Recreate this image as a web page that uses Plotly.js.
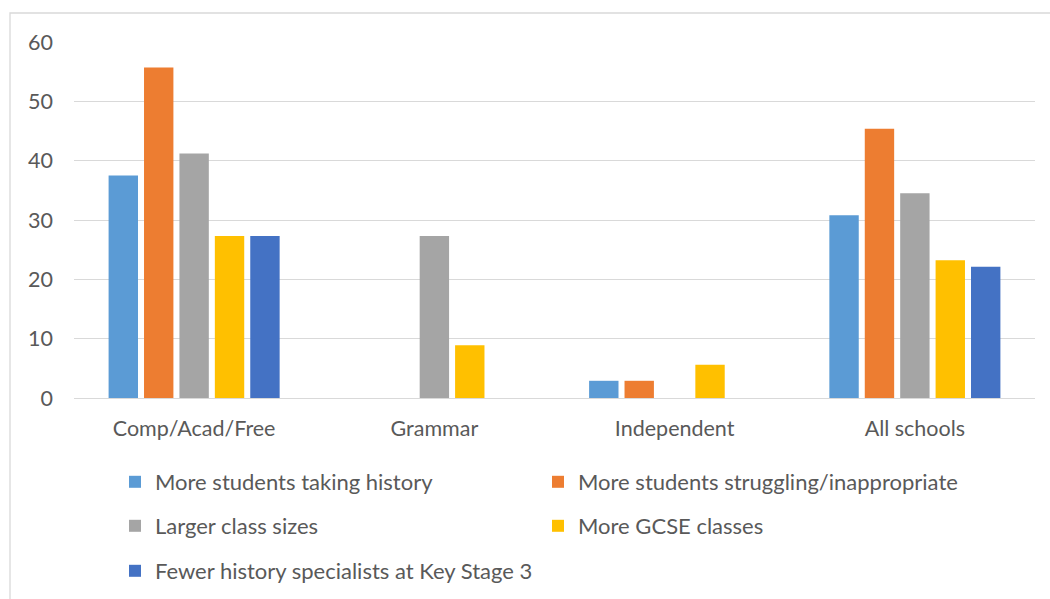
<!DOCTYPE html>
<html>
<head>
<meta charset="utf-8">
<script src="https://cdn.plot.ly/plotly-3.0.1.min.js"></script>
<style>
  html, body { margin: 0; padding: 0; background: #ffffff; }
  #chart { width: 1050px; height: 599px; }
</style>
</head>
<body>
<div id="chart"></div>
<script>
const categories = ["Comp/Acad/Free", "Grammar", "Independent", "All schools"];

const seriesNames = [
  "More students taking history",
  "More students struggling/inappropriate",
  "Larger class sizes",
  "More GCSE classes",
  "Fewer history specialists at Key Stage 3"
];

const moreStudentsTaking = [37.5, null, 2.9, 30.8];
const moreStudentsStruggling = [55.7, null, 2.9, 45.4];
const largerClassSizes = [41.2, 27.3, null, 34.5];
const moreGcseClasses = [27.3, 8.9, 5.6, 23.2];
const fewerSpecialists = [27.3, null, null, 22.1];

const seriesValues = [moreStudentsTaking, moreStudentsStruggling, largerClassSizes, moreGcseClasses, fewerSpecialists];
const seriesColors = ["#5B9BD5", "#ED7D31", "#A5A5A5", "#FFC000", "#4472C4"];
const seriesLegends = ["legend", "legend", "legend2", "legend2", "legend3"];

const yTicks = [0, 10, 20, 30, 40, 50, 60];

const FONT = "Lato, 'Open Sans', sans-serif";
const TXT = "#595959";

const traces = seriesNames.map((name, i) => ({
  type: "bar",
  name: name,
  x: categories,
  y: seriesValues[i],
  marker: { color: seriesColors[i], line: { width: 0 } },
  legend: seriesLegends[i],
  hoverinfo: "x+y+name"
}));

function legendAt(yPx) {
  return {
    orientation: "h",
    xref: "container", yref: "container",
    x: 115 / 1050, y: 1 - yPx / 599,
    xanchor: "left", yanchor: "middle",
    entrywidth: 378, entrywidthmode: "pixels",
    font: { family: FONT, size: 22, color: TXT },
    bgcolor: "rgba(0,0,0,0)",
    borderwidth: 0,
    traceorder: "normal"
  };
}

const layout = {
  width: 1050, height: 599,
  paper_bgcolor: "#ffffff",
  plot_bgcolor: "#ffffff",
  margin: { l: 74, r: 15, t: 42, b: 201 },
  barmode: "group",
  bargap: 0.263,
  bargroupgap: 0.17,
  showlegend: true,
  legend: legendAt(482),
  legend2: legendAt(526),
  legend3: legendAt(571),
  xaxis: {
    type: "category",
    tickfont: { family: FONT, size: 21.5, color: TXT },
    showgrid: false,
    showline: false,
    zeroline: false,
    ticks: "",
    ticklabelstandoff: 15,
    fixedrange: true
  },
  yaxis: {
    range: [0, 60],
    tickvals: yTicks,
    ticktext: yTicks.map(String),
    tickfont: { family: FONT, size: 21.5, color: TXT },
    showgrid: true,
    gridcolor: "#D9D9D9",
    gridwidth: 1.3,
    zeroline: true,
    zerolinecolor: "#D9D9D9",
    zerolinewidth: 1.3,
    showline: false,
    ticks: "",
    ticklabelstandoff: 20,
    fixedrange: true
  },
  shapes: [{
    type: "rect",
    xref: "paper", yref: "paper",
    x0: (10 - 74) / 961, x1: (1060 - 74) / 961,
    y0: -(620 - 398) / 356, y1: (398 - 13) / 356,
    line: { color: "#D9D9D9", width: 1.3 },
    fillcolor: "rgba(0,0,0,0)",
    layer: "below"
  }]
};

Plotly.newPlot("chart", traces, layout, { displayModeBar: false, staticPlot: false });
</script>
</body>
</html>
